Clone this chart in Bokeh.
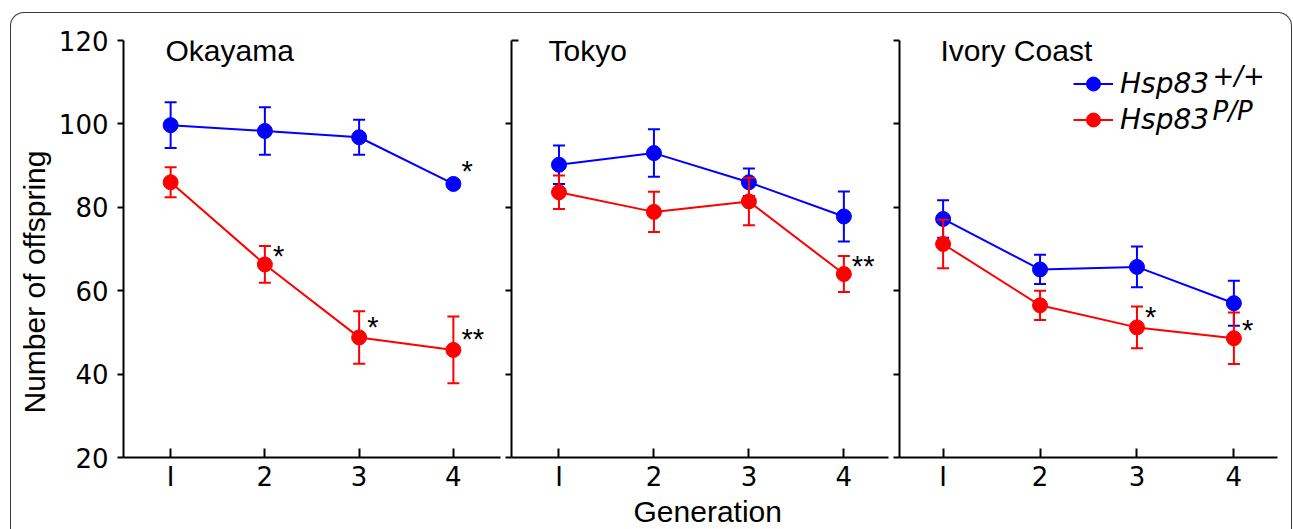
import numpy as np
from bokeh.plotting import figure
from bokeh.models import Range1d, FixedTicker, Legend, LegendItem, Label, Title, InlineStyleSheet
from bokeh.layouts import row
from bokeh.embed import file_html
from bokeh.resources import INLINE
from bokeh.core.properties import value

# ---------------- data ----------------
generations = [1, 2, 3, 4]
generation_labels = ["I", "2", "3", "4"]
y_ticks = [20, 40, 60, 80, 100, 120]

okayama_wt = [99.7, 98.3, 96.8, 85.6]
okayama_wt_err = [5.5, 5.7, 4.2, 1.0]
okayama_pp = [86.0, 66.3, 48.8, 45.8]
okayama_pp_err = [3.6, 4.4, 6.3, 8.0]

tokyo_wt = [90.2, 93.0, 86.0, 77.8]
tokyo_wt_err = [4.6, 5.7, 3.3, 6.0]
tokyo_pp = [83.6, 78.9, 81.4, 64.0]
tokyo_pp_err = [4.0, 4.8, 5.7, 4.3]

ivory_wt = [77.2, 65.1, 65.7, 57.0]
ivory_wt_err = [4.5, 3.5, 4.9, 5.4]
ivory_pp = [71.2, 56.5, 51.2, 48.6]
ivory_pp_err = [5.8, 3.5, 5.0, 6.2]

okayama_star_gen = [4, 2, 3, 4]
okayama_star_y = [89.8, 69.5, 52.5, 49.6]
okayama_star_text = ["*", "*", "*", "**"]
tokyo_star_gen = [4]
tokyo_star_y = [67.1]
tokyo_star_text = ["**"]
ivory_star_gen = [3, 4]
ivory_star_y = [54.9, 51.7]
ivory_star_text = ["*", "*"]

BLUE = "#0000ff"
RED = "#ff0000"
FONT = "Liberation Sans"
TICK_FONT = "DejaVu Sans"


def make_panel(title, title_x, wt, wt_err, pp, pp_err, sgen, sy, stext,
               width, left, right, xr, yticks, show_labels):
    p = figure(width=width, height=529, x_range=Range1d(*xr), y_range=Range1d(20, 120),
               output_backend="svg", toolbar_location=None,
               min_border_left=left, min_border_right=right,
               min_border_top=40, min_border_bottom=70)
    p.outline_line_color = None
    p.grid.visible = False
    p.background_fill_color = None
    p.border_fill_color = None

    xa = p.xaxis[0]
    xa.ticker = FixedTicker(ticks=generations)
    xa.major_label_overrides = {g: lab for g, lab in zip(generations, generation_labels)}
    xa.axis_line_width = 2
    xa.major_tick_line_width = 2
    xa.major_tick_in = 9
    xa.major_tick_out = 0
    xa.minor_tick_line_color = None
    xa.major_label_text_font = TICK_FONT
    xa.major_label_text_font_size = "26px"
    xa.major_label_text_color = "black"
    xa.major_label_standoff = 4

    ya = p.yaxis[0]
    ya.ticker = yticks
    ya.axis_line_width = 2
    ya.major_tick_line_width = 2
    ya.major_tick_in = 0
    ya.major_tick_out = 6
    ya.minor_tick_line_width = 2
    ya.minor_tick_in = 7
    ya.minor_tick_out = 0
    ya.major_label_text_font = TICK_FONT
    if show_labels:
        ya.major_label_text_color = "black"
        ya.major_label_text_font_size = "26px"
        ya.major_label_standoff = 9
    else:
        ya.major_label_text_color = None
        ya.major_label_text_font_size = "0px"
        ya.major_label_standoff = 0

    rends = []
    for vals, err, color in [(wt, wt_err, BLUE), (pp, pp_err, RED)]:
        v = np.array(vals)
        e = np.array(err)
        upper = v + e
        lower = v - e
        p.segment(x0=generations, y0=lower, x1=generations, y1=upper,
                  line_color=color, line_width=2)
        p.scatter(generations, upper, marker="dash", size=12, line_color=color, line_width=2)
        p.scatter(generations, lower, marker="dash", size=12, line_color=color, line_width=2)
        ln = p.line(generations, vals, line_color=color, line_width=2)
        mk = p.scatter(generations, vals, size=15, fill_color=color, line_color=color)
        rends.append((ln, mk))

    p.text(x=sgen, y=sy, text=stext, text_font=value(FONT), text_font_size="29px",
           text_color="black", text_align="left", text_baseline="alphabetic",
           x_offset=8, y_offset=5)

    p.add_layout(Label(x=title_x, y=407, x_units="screen", y_units="screen", text=title,
                       text_font=FONT, text_font_size="30px", text_color="black",
                       text_baseline="alphabetic", text_align="left"))
    return p, rends


p1, _ = make_panel("Okayama", 42, okayama_wt, okayama_wt_err, okayama_pp, okayama_pp_err,
                   okayama_star_gen, okayama_star_y, okayama_star_text,
                   505, 123, 5, (0.5, 4.5), FixedTicker(ticks=y_ticks), True)
p2, _ = make_panel("Tokyo", 37, tokyo_wt, tokyo_wt_err, tokyo_pp, tokyo_pp_err,
                   tokyo_star_gen, tokyo_star_y, tokyo_star_text,
                   388, 6, 5, (0.5, 4.47), FixedTicker(ticks=y_ticks[:-1], minor_ticks=y_ticks[-1:]), False)
p3, r3 = make_panel("Ivory Coast", 41, ivory_wt, ivory_wt_err, ivory_pp, ivory_pp_err,
                    ivory_star_gen, ivory_star_y, ivory_star_text,
                    400, 6, 16, (0.55, 4.45), FixedTicker(ticks=y_ticks), False)

p1.add_layout(Title(text="Number of offspring", align="left", offset=44, vertical_align="bottom",
                    standoff=10, text_font=FONT, text_font_size="30px", text_font_style="normal",
                    text_color="black"), "left")
p2.add_layout(Title(text="Generation", align="left", offset=122, vertical_align="top",
                    standoff=0, text_font=FONT, text_font_size="30px", text_font_style="normal",
                    text_color="black"), "below")

legend = Legend(items=[LegendItem(label="Hsp83", renderers=list(r3[0])),
                       LegendItem(label="Hsp83", renderers=list(r3[1]))],
                location=(174, 320), padding=0, margin=0, spacing=1,
                glyph_width=40, glyph_height=35, label_standoff=7,
                border_line_color=None, background_fill_alpha=0,
                label_text_font=TICK_FONT, label_text_font_style="italic",
                label_text_font_size="28px", label_text_color="black")
p3.add_layout(legend)
p3.add_layout(Label(x=313, y=382, x_units="screen", y_units="screen", text="+/+",
                    text_font=TICK_FONT, text_font_style="italic", text_font_size="26px",
                    text_color="black", text_baseline="alphabetic"))
p3.add_layout(Label(x=313, y=347, x_units="screen", y_units="screen", text="P/P",
                    text_font=TICK_FONT, text_font_style="italic", text_font_size="26px",
                    text_color="black", text_baseline="alphabetic"))

frame_css = InlineStyleSheet(css="""
:host { position: relative; }
:host::after {
  content: ''; position: absolute; left: 9.5px; top: 12px; width: 1282px; height: 517px;
  border: 1.5px solid #3a3a3a; border-bottom: none; border-radius: 14px 14px 0 0;
  box-sizing: border-box; pointer-events: none; z-index: 10;
}
""")

layout = row(p1, p2, p3, spacing=0, stylesheets=[frame_css])

open("out.html", "w").write(file_html(layout, INLINE))
